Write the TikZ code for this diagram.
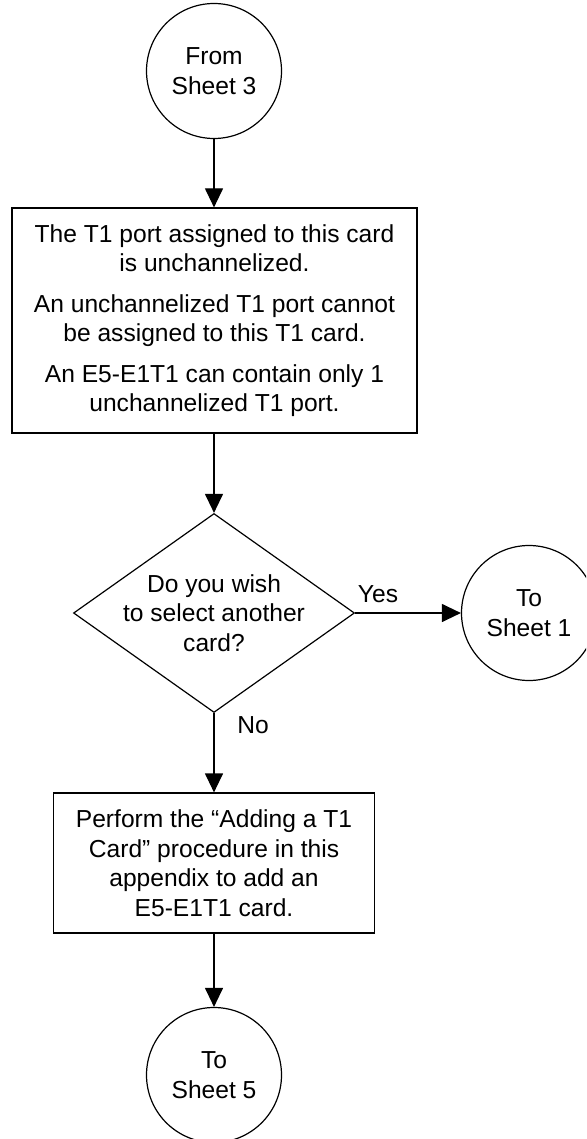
\documentclass[tikz,border=0pt]{standalone}
\usepackage{fontspec}
\setmainfont{Liberation Sans}
\usetikzlibrary{arrows.meta,shapes.geometric}
\begin{document}
\begin{tikzpicture}[x=1pt,y=-1pt,
  txt/.style={font=\fontsize{24.6}{29.5}\selectfont, align=center},
  base/.style={draw=black, line width=1.2pt, txt, inner sep=0pt},
  conn/.style={circle, base, minimum size=135pt},
  procbox/.style={rectangle, base},
  decision/.style={diamond, base, minimum width=281pt, minimum height=199pt},
  arr/.style={line width=1.2pt, -{Triangle[length=19pt,width=18pt]}}]
\useasboundingbox (0,0) rectangle (586,1139);
\clip (0,0) rectangle (586,1139);

\node[conn] (c1) at (214,71) {From\\Sheet 3};
\node[procbox, minimum width=405pt, minimum height=225pt] (b1) at (214.5,320.5)
  {The T1 port assigned to this card\\is unchannelized.\\[11pt]
   An unchannelized T1 port cannot\\be assigned to this T1 card.\\[11pt]
   An E5-E1T1 can contain only 1\\unchannelized T1 port.};
\node[decision, label={[txt]center:{Do you wish\\to select another\\card?}}] (d) at (214,613) {};
\node[conn] (c2) at (529,613) {To\\Sheet 1};
\node[procbox, minimum width=321pt, minimum height=140pt] (b2) at (214,863)
  {Perform the “Adding a T1\\Card” procedure in this\\appendix to add an\\E5-E1T1 card.};
\node[conn] (c3) at (214,1075) {To\\Sheet 5};

\node[txt] (yes) at (378,594) {Yes};
\node[txt] (no) at (253,725) {No};

\draw[arr] (c1.south) -- (c1.south |- b1.north);
\draw[arr] (d.north |- b1.south) -- (d.north);
\draw[arr] (d.east) -- (c2.west);
\draw[arr] (d.south) -- (d.south |- b2.north);
\draw[arr] (b2.south) -- (c3.north);
\end{tikzpicture}
\end{document}
